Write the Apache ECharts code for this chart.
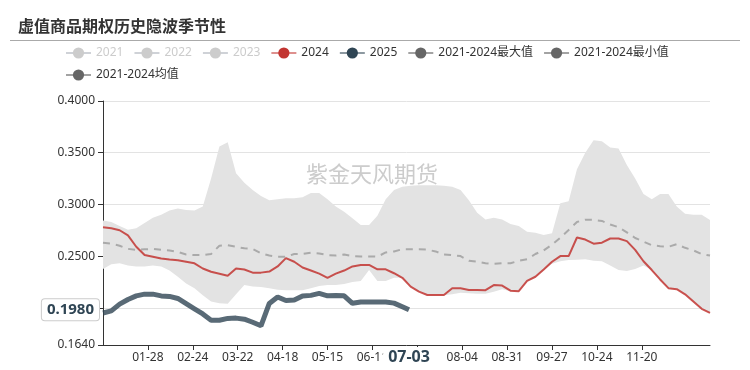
<!DOCTYPE html>
<html><head><meta charset="utf-8">
<script src="https://cdn.jsdelivr.net/npm/echarts@6/dist/echarts.min.js"></script>
<style>html,body{margin:0;padding:0;background:#fff}#c{width:750px;height:370px}</style>
</head><body><div id="c"></div><script>
const titleText = '虚值商品期权历史隐波季节性';
const watermark = '紫金天风期货';
const legendNames = ['2021','2022','2023','2024','2025','2021-2024最大值','2021-2024最小值','2021-2024均值'];

// x categories: every calendar day (leap year layout)
const categories = [];
for (let i = 0; i < 366; i++) {
  const d = new Date(Date.UTC(2024, 0, 1 + i));
  categories.push(String(d.getUTCMonth() + 1).padStart(2, '0') + '-' + String(d.getUTCDate()).padStart(2, '0'));
}
// values read every 5 days (01-01, 01-06, ... 12-31)
const sampleDates = categories.filter((_, i) => i % 5 === 0);

const y2024 = [0.278,0.277,0.275,0.270,0.259,0.251,0.2494,0.2477,0.2468,0.246,0.2445,0.243,0.238,0.2348,0.233,0.231,0.238,0.237,0.234,0.234,0.235,0.240,0.248,0.2445,0.239,0.236,0.233,0.229,0.233,0.236,0.240,0.2414,0.2414,0.2372,0.2372,0.2334,0.229,0.2204,0.2156,0.2124,0.2124,0.2124,0.2188,0.2188,0.2172,0.2172,0.217,0.222,0.2215,0.2165,0.216,0.226,0.230,0.237,0.2445,0.250,0.250,0.268,0.266,0.262,0.263,0.267,0.267,0.2645,0.256,0.245,0.2365,0.2274,0.219,0.218,0.213,0.206,0.199,0.195];
const y2025 = [0.195,0.197,0.2035,0.208,0.2115,0.2132,0.2132,0.2115,0.211,0.209,0.204,0.199,0.194,0.188,0.188,0.1897,0.190,0.189,0.186,0.1826,0.2042,0.2105,0.207,0.2075,0.2115,0.212,0.2139,0.2116,0.2118,0.2116,0.2043,0.2055,0.2055,0.2055,0.2055,0.2045,0.201];
const y2025LastDate = '07-03';
const y2025Last = 0.198;
const yMax = [0.2845,0.283,0.279,0.2755,0.277,0.282,0.287,0.290,0.294,0.296,0.2945,0.294,0.298,0.325,0.356,0.360,0.330,0.321,0.314,0.308,0.304,0.305,0.306,0.306,0.307,0.311,0.311,0.305,0.298,0.293,0.2866,0.280,0.280,0.289,0.305,0.314,0.317,0.318,0.3185,0.3185,0.3185,0.318,0.317,0.3139,0.304,0.292,0.2855,0.287,0.2855,0.281,0.279,0.2735,0.2726,0.2703,0.272,0.301,0.303,0.334,0.350,0.362,0.361,0.355,0.354,0.338,0.325,0.310,0.305,0.310,0.310,0.298,0.291,0.290,0.290,0.285];
const yMin = [0.2375,0.242,0.243,0.241,0.240,0.240,0.241,0.240,0.236,0.230,0.2235,0.219,0.212,0.206,0.2043,0.204,0.213,0.222,0.2205,0.220,0.219,0.2175,0.217,0.217,0.217,0.219,0.221,0.222,0.222,0.223,0.225,0.226,0.2365,0.226,0.226,0.229,0.229,0.2204,0.2155,0.212,0.212,0.212,0.213,0.2145,0.214,0.2135,0.2135,0.2155,0.218,0.216,0.216,0.2255,0.230,0.2365,0.2425,0.245,0.2462,0.2465,0.247,0.2455,0.245,0.241,0.2365,0.2355,0.2375,0.241,0.2365,0.2274,0.219,0.218,0.213,0.206,0.199,0.195];
const yMean = [0.263,0.262,0.260,0.257,0.256,0.2565,0.257,0.256,0.2555,0.254,0.2515,0.251,0.251,0.252,0.260,0.2605,0.259,0.2575,0.257,0.2528,0.2505,0.2494,0.2494,0.252,0.252,0.2532,0.2526,0.251,0.2505,0.2515,0.250,0.2497,0.2497,0.2494,0.2535,0.2545,0.2566,0.2566,0.2566,0.2562,0.2545,0.2515,0.251,0.250,0.2455,0.2445,0.243,0.2425,0.243,0.243,0.2455,0.247,0.252,0.2555,0.261,0.2677,0.2752,0.283,0.2852,0.285,0.284,0.2805,0.278,0.273,0.2675,0.264,0.2605,0.2595,0.259,0.2615,0.258,0.2555,0.252,0.2505];

const pairs = vals => vals.map((v, i) => [sampleDates[i], v]);
const bandDiff = yMax.map((v, i) => +(v - yMin[i]).toFixed(4));
const data2025 = pairs(y2025).concat([[y2025LastDate, y2025Last]]);

const FONT = "'Noto Sans', 'Noto Sans CJK SC', sans-serif";
const labelIdx = idx => idx > 0 && idx % 27 === 0 && idx < 340;

const chart = echarts.init(document.getElementById('c'));
const lineBase = {type: 'line', symbol: 'circle', symbolSize: 8, showSymbol: false, smooth: false};
chart.setOption({
  animation: false,
  textStyle: {fontFamily: FONT},
  title: {text: titleText, left: 13, top: 13, textStyle: {fontSize: 16, fontWeight: 'bold', color: '#333', fontFamily: "'Noto Sans CJK SC', sans-serif"}},
  graphic: [
    {type: 'line', shape: {x1: 10, y1: 40.5, x2: 740, y2: 40.5}, style: {stroke: '#aaa', lineWidth: 1}},
    {type: 'text', left: 306, top: 163, z: 100, style: {text: watermark, fontSize: 22, fill: '#cccccc', fontFamily: "'Noto Sans CJK SC', sans-serif"}}
  ],
  legend: {
    top: 42, left: 60, width: 640, itemGap: 10, itemWidth: 25, itemHeight: 14,
    textStyle: {fontSize: 12, color: '#333', fontFamily: FONT},
    inactiveColor: '#ccc',
    selected: {'2021': false, '2022': false, '2023': false},
    data: [
      {name: '2021'}, {name: '2022'}, {name: '2023'},
      {name: '2024', lineStyle: {color: '#c23531', opacity: 0.55}},
      {name: '2025', lineStyle: {color: '#2f4554', opacity: 0.55}},
      {name: '2021-2024最大值', lineStyle: {color: '#666', opacity: 0.6, width: 2}},
      {name: '2021-2024最小值', lineStyle: {color: '#666', opacity: 0.6, width: 2}},
      {name: '2021-2024均值', lineStyle: {color: '#666', opacity: 0.6, width: 2, type: 'solid'}}
    ]
  },
  grid: {left: 103, right: 40, top: 101, bottom: 25},
  xAxis: {
    type: 'category', data: categories, boundaryGap: false,
    axisLine: {lineStyle: {color: '#333'}},
    axisTick: {interval: labelIdx, length: 5, lineStyle: {color: '#333'}},
    axisLabel: {interval: labelIdx, color: '#333', fontSize: 12, margin: 7},
    splitLine: {show: false},
    axisPointer: {
      show: true, status: 'show', value: categories.indexOf(y2025LastDate), type: 'line',
      lineStyle: {opacity: 0, width: 0},
      label: {show: true, backgroundColor: '#fff', color: '#2f4554', fontWeight: 'bold', fontSize: 16, padding: [2, 5], margin: 2}
    }
  },
  yAxis: {
    type: 'value', min: 0.164, max: 0.4,
    axisLine: {show: true, lineStyle: {color: '#333'}},
    axisTick: {show: true, length: 5, lineStyle: {color: '#333'}},
    axisLabel: {color: '#333', fontSize: 12, formatter: v => v.toFixed(4)},
    splitLine: {lineStyle: {color: '#e3e3e3'}},
    axisPointer: {
      show: true, status: 'show', value: y2025Last, type: 'line',
      lineStyle: {opacity: 0, width: 0},
      label: {show: true, formatter: p => Number(p.value).toFixed(4), backgroundColor: '#fff', borderColor: '#ccc', borderWidth: 1,
        color: '#2f4554', fontWeight: 'bold', fontSize: 15, padding: [3, 5], margin: 4}
    }
  },
  series: [
    Object.assign({}, lineBase, {name: '2021', data: [], itemStyle: {color: '#999'}}),
    Object.assign({}, lineBase, {name: '2022', data: [], itemStyle: {color: '#999'}}),
    Object.assign({}, lineBase, {name: '2023', data: [], itemStyle: {color: '#999'}}),
    Object.assign({}, lineBase, {name: '2021-2024最小值', stack: 'band', data: pairs(yMin),
      itemStyle: {color: '#666'}, lineStyle: {opacity: 0}, z: 1}),
    Object.assign({}, lineBase, {name: '2021-2024最大值', stack: 'band', data: pairs(bandDiff),
      itemStyle: {color: '#666'}, lineStyle: {opacity: 0}, areaStyle: {color: '#e3e3e3', opacity: 1}, z: 1}),
    Object.assign({}, lineBase, {name: '2021-2024均值', data: pairs(yMean), itemStyle: {color: '#666'},
      lineStyle: {color: '#aaa', width: 2, type: [7, 6]}, z: 2}),
    Object.assign({}, lineBase, {name: '2024', data: pairs(y2024), itemStyle: {color: '#c23531'},
      lineStyle: {color: '#c23531', width: 2, opacity: 0.85}, z: 3}),
    Object.assign({}, lineBase, {name: '2025', data: data2025, itemStyle: {color: '#2f4554'},
      lineStyle: {color: '#2f4554', width: 5, opacity: 0.8}, z: 4})
  ]
});
</script></body></html>
